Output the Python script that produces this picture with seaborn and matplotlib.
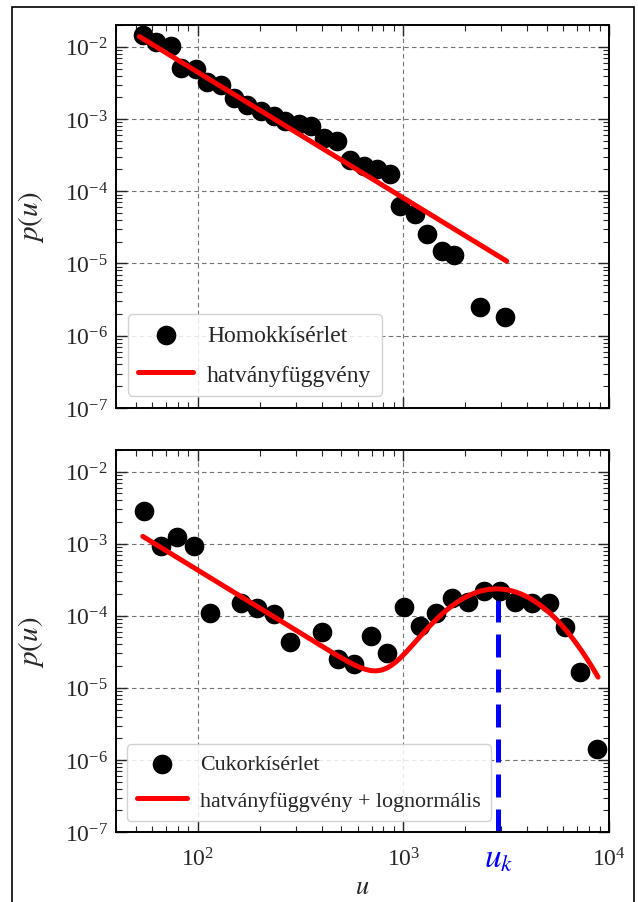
import numpy as np
import pandas as pd
import matplotlib
matplotlib.use("Agg")
import matplotlib.pyplot as plt
import matplotlib.ticker as mticker
from matplotlib.patches import Rectangle
import seaborn as sns

# --- sand experiment (Homokkísérlet) ---
sand_u = [54.0, 62.5, 74, 82.6, 97.8, 111, 129, 150, 174, 202, 234, 267, 309, 354,
          409, 477, 553, 640, 745, 865, 967, 1143, 1303, 1541, 1770, 2366, 3128]
sand_p = [1.47e-2, 1.18e-2, 1.03e-2, 5.1e-3, 4.9e-3, 3.3e-3, 2.98e-3, 1.98e-3, 1.58e-3,
          1.28e-3, 1.09e-3, 9.3e-4, 8.4e-4, 7.9e-4, 5.5e-4, 4.9e-4, 2.75e-4, 2.22e-4,
          2.0e-4, 1.76e-4, 6.2e-5, 4.8e-5, 2.53e-5, 1.49e-5, 1.30e-5, 2.48e-6, 1.81e-6]
# power-law fit p = A * u^(-a)
sand_fit_amp = 13.4
sand_fit_exp = 1.74
sand_fit_range = [52, 3180]

# --- sugar experiment (Cukorkísérlet) ---
sugar_u = [54.8, 66.1, 79.5, 95.9, 115, 162, 195, 235, 281, 403, 481, 578, 697, 833,
           1003, 1210, 1446, 1723, 2051, 2453, 2958, 3498, 4218, 5134, 6117, 7230, 8714]
sugar_p = [2.89e-3, 9.2e-4, 1.24e-3, 9.2e-4, 1.08e-4, 1.50e-4, 1.30e-4, 1.06e-4, 4.3e-5,
           6.0e-5, 2.53e-5, 2.12e-5, 5.3e-5, 3.0e-5, 1.34e-4, 7.2e-5, 1.10e-4, 1.79e-4,
           1.57e-4, 2.22e-4, 2.22e-4, 1.57e-4, 1.52e-4, 1.52e-4, 7.1e-5, 1.64e-5, 1.43e-6]
# power law + lognormal fit
sugar_pl_amp = 1.36
sugar_pl_exp = 1.75
sugar_ln_amp = 2.35e-4
sugar_ln_center = 2850
sugar_ln_width = 0.207         # in decades
sugar_fit_range = [54, 8850]
u_k = 2900

x_ticks = [1e2, 1e3, 1e4]
y_ticks = [1e-7, 1e-6, 1e-5, 1e-4, 1e-3, 1e-2]
x_lim = (40, 1e4)
y_lim = (1e-7, 2e-2)

sns.set_style("ticks")
plt.rcParams.update({
    "font.family": "serif",
    "font.serif": ["Liberation Serif", "DejaVu Serif"],
    "mathtext.fontset": "stix",
    "axes.linewidth": 1.4,
})


def sand_model(u):
    return sand_fit_amp * np.power(u, -sand_fit_exp)


def sugar_model(u):
    lg = np.log10(u)
    pl = sugar_pl_amp * np.power(u, -sugar_pl_exp)
    ln = sugar_ln_amp * np.exp(-(lg - np.log10(sugar_ln_center)) ** 2 / (2 * sugar_ln_width ** 2))
    return pl + ln


fig = plt.figure(figsize=(6.38, 9.03), dpi=100)
ax1 = fig.add_axes([0.1818, 0.5471, 0.7727, 0.4241])
ax2 = fig.add_axes([0.1818, 0.0775, 0.7727, 0.4231])

FS = 17


def style_axis(ax):
    ax.set_xscale("log")
    ax.set_yscale("log")
    ax.set_xlim(*x_lim)
    ax.set_ylim(*y_lim)
    ax.set_xticks(x_ticks)
    ax.set_yticks(y_ticks)
    ax.xaxis.set_major_formatter(mticker.LogFormatterMathtext())
    ax.yaxis.set_major_formatter(mticker.LogFormatterMathtext())
    ax.xaxis.set_minor_locator(mticker.LogLocator(base=10, subs=np.arange(2, 10)))
    ax.yaxis.set_minor_locator(mticker.LogLocator(base=10, subs=np.arange(2, 10), numticks=20))
    ax.xaxis.set_minor_formatter(mticker.NullFormatter())
    ax.yaxis.set_minor_formatter(mticker.NullFormatter())
    ax.tick_params(which="both", direction="in", top=True, right=True, labelsize=FS, pad=6)
    ax.tick_params(axis="x", which="major", pad=11)
    ax.tick_params(which="major", length=8, width=1.0)
    ax.tick_params(which="minor", length=4, width=0.8)
    ax.grid(True, which="major", linestyle=(0, (4, 3)), color="0.45", linewidth=0.8)
    ax.set_axisbelow(True)
    for sp in ax.spines.values():
        sp.set_visible(True)
        sp.set_color("black")
    ax.set_ylabel("$p(u)$", fontsize=21)
    ax.yaxis.set_label_coords(-0.142, 0.5)


# top panel: sand
sns.scatterplot(x=sand_u, y=sand_p, ax=ax1, s=200, color="black", linewidth=0,
                label="Homokkísérlet", zorder=3)
uu = np.geomspace(*sand_fit_range, 200)
sns.lineplot(x=uu, y=sand_model(uu), ax=ax1, color="red", linewidth=3.6,
             label="hatványfüggvény", zorder=4)
style_axis(ax1)
ax1.tick_params(labelbottom=False)
ax1.set_xlabel("")

# bottom panel: sugar
sns.scatterplot(x=sugar_u, y=sugar_p, ax=ax2, s=200, color="black", linewidth=0,
                label="Cukorkísérlet", zorder=3)
uu2 = np.geomspace(*sugar_fit_range, 400)
sns.lineplot(x=uu2, y=sugar_model(uu2), ax=ax2, color="red", linewidth=3.6,
             label="hatványfüggvény + lognormális", zorder=4)
style_axis(ax2)
ax2.plot([u_k, u_k], [y_lim[0], sugar_model(u_k)], color="blue", linewidth=3.6,
         linestyle=(0, (4.6, 2.4)), zorder=2.5)
ax2.text(u_k, -0.03, "$u_k$", color="blue", fontsize=24,
         transform=ax2.get_xaxis_transform(), ha="center", va="top")
ax2.set_xlabel("$u$", fontsize=19)
ax2.xaxis.set_label_coords(0.5, -0.115)

for ax, fs in ((ax1, FS), (ax2, 15.8)):
    leg = ax.legend(loc="lower left", fontsize=fs, handlelength=2.3, frameon=True,
                    fancybox=True, edgecolor="0.8", framealpha=0.85,
                    borderaxespad=0.5, handletextpad=0.6, labelspacing=0.75,
                    borderpad=0.45)
    leg.get_frame().set_linewidth(1.0)

# outer frame
fig.add_artist(Rectangle((0.0195, -0.01), 0.974, 1.001, transform=fig.transFigure,
                         fill=False, edgecolor="black", linewidth=1.2))

fig.savefig("out.png", dpi=100, facecolor="white")
